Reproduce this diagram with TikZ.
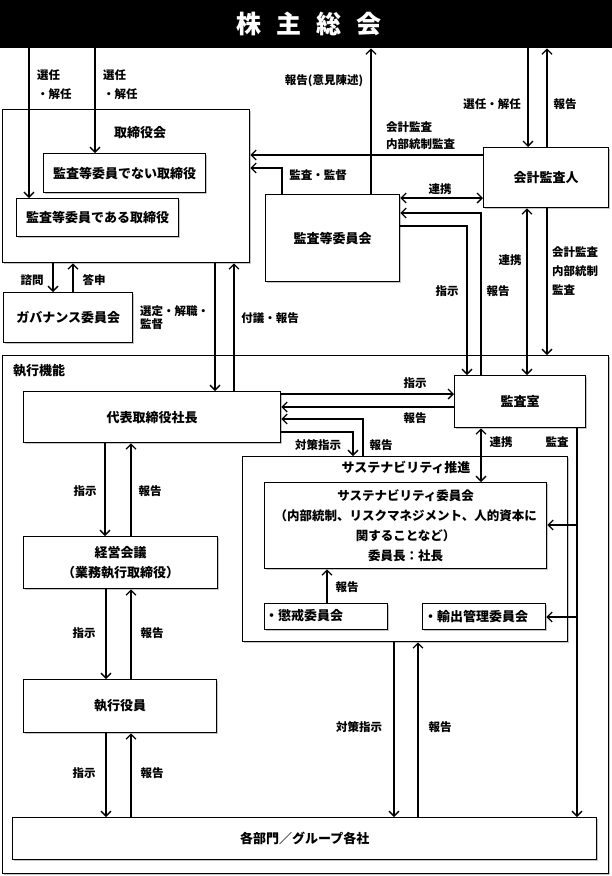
\documentclass[tikz,border=0pt]{standalone}
\usepackage{fontspec}
\setmainfont{Noto Sans CJK JP}
\usetikzlibrary{arrows.meta,shadows}
\begin{document}
\begin{tikzpicture}[x=1pt,y=-1pt,
  font=\bfseries\fontsize{13}{20}\selectfont,
  box/.style={draw,line width=1.3pt,fill=white,anchor=north west,inner sep=0pt,
    drop shadow={shadow xshift=1.3pt,shadow yshift=-1.3pt,fill=black!50,opacity=0.45}},
  lbl/.style={font=\bfseries\fontsize{11.5}{14}\selectfont,inner sep=0pt},
  lblA/.style={font=\bfseries\fontsize{11.5}{19}\selectfont,inner sep=0pt,align=left},
  lblB/.style={font=\bfseries\fontsize{11.5}{17}\selectfont,inner sep=0pt,align=left},
  lblC/.style={font=\bfseries\fontsize{11.5}{12.8}\selectfont,inner sep=0pt,align=left},
  ln/.style={line width=1.3pt},
  arr/.style={ln,-{Straight Barb[length=5pt,width=10pt]}},
  darr/.style={ln,{Straight Barb[length=5pt,width=10pt]}-{Straight Barb[length=5pt,width=10pt]}},
]
\useasboundingbox[fill=white] (0,0) rectangle (612,876);

% top band
\node[fill=black,minimum width=612pt,minimum height=48pt,anchor=north west,inner sep=0pt,
  text=white,font=\bfseries\fontsize{25}{28}\selectfont] (sh) at (0,0)
  {\hspace{6pt}株\hspace{15pt}主\hspace{15pt}総\hspace{15pt}会};

% board
\node[box,minimum width=247pt,minimum height=153pt] (board) at (2,109) {};
\node[inner sep=0pt] (boardlbl) at (140,133) {取締役会};
\node[box,minimum width=162pt,minimum height=39pt] (d1) at (43,153) {監査等委員でない取締役};
\node[box,minimum width=162pt,minimum height=38pt] (d2) at (16,198) {監査等委員である取締役};
\node[box,minimum width=129pt,minimum height=50pt] (gov) at (3,292) {ガバナンス委員会};
\node[box,minimum width=134pt,minimum height=87pt] (ac) at (265,194) {監査等委員会};
\node[box,minimum width=125pt,minimum height=60pt] (auditor) at (483,147) {会計監査人};

% execution
\node[box,minimum width=606pt,minimum height=518pt] (exec) at (2,355) {};
\node[inner sep=0pt,anchor=west] (execlbl) at (13,371) {執行機能};
\node[box,minimum width=257pt,minimum height=51pt] (pres) at (23,391) {代表取締役社長};
\node[box,minimum width=131pt,minimum height=52pt] (audit) at (454,375) {監査室};
\node[box,minimum width=194pt,minimum height=52pt,align=center] (keiei) at (23,536) {経営会議\\（業務執行取締役）};
\node[box,minimum width=325pt,minimum height=185pt] (sus) at (242,456) {};
\node[inner sep=0pt] (suslbl) at (406,467) {サステナビリティ推進};
\node[box,minimum width=282pt,minimum height=86pt,align=center,
  font=\bfseries\fontsize{12.5}{20}\selectfont] (suscom) at (264,482)
  {サステナビリティ委員会\\（内部統制、リスクマネジメント、人的資本に\\関することなど）\\委員長：社長};
\node[box,minimum width=123pt,minimum height=26pt] (chokai) at (264,603) {};
\node[inner sep=0pt,anchor=west] (chokailbl) at (265,616) {・懲戒委員会};
\node[box,minimum width=123pt,minimum height=26pt] (yushutsu) at (422,603) {};
\node[inner sep=0pt,anchor=west] (yushutsulbl) at (424,616) {・輸出管理委員会};
\node[box,minimum width=193pt,minimum height=53pt] (yakuin) at (23,679) {執行役員};
\node[box,minimum width=584pt,minimum height=42pt] (dept) at (12,817) {各部門／グループ各社};

% connectors
\draw[arr] (29,0 |- sh.south) -- (29,0 |- d2.north);
\draw[arr] (95,0 |- sh.south) -- (95,0 |- d1.north);
\draw[arr] (371,0 |- ac.north) -- (371,0 |- sh.south);
\draw[arr] (528,0 |- sh.south) -- (528,0 |- auditor.north);
\draw[arr] (547,0 |- auditor.north) -- (547,0 |- sh.south);
\draw[arr] (auditor.west |- 0,155) -- (board.east |- 0,155);
\draw[arr] (282,0 |- ac.north) |- (board.east |- 0,168);
\draw[darr] (ac.east |- 0,198) -- (auditor.west |- 0,198);
\draw[arr] (ac.east |- 0,226) -| (467,0 |- audit.north);
\draw[arr] (481,0 |- audit.north) |- (ac.east |- 0,213);
\draw[darr] (527,0 |- auditor.south) -- (527,0 |- audit.north);
\draw[arr] (547,0 |- auditor.south) -- (547,0 |- exec.north);
\draw[arr] (53,0 |- board.south) -- (53,0 |- gov.north);
\draw[arr] (73,0 |- gov.north) -- (73,0 |- board.south);
\draw[arr] (215,0 |- board.south) -- (215,0 |- pres.north);
\draw[arr] (234,0 |- pres.north) -- (234,0 |- board.south);
\draw[arr] (pres.east |- 0,394) -- (audit.west |- 0,394);
\draw[arr] (audit.west |- 0,407) -- (pres.east |- 0,407);
\draw[arr] (363,0 |- sus.north) |- (pres.east |- 0,419);
\draw[arr] (pres.east |- 0,432) -| (353,0 |- sus.north);
\draw[darr] (481,0 |- audit.south) -- (481,0 |- suscom.north);
\coordinate (b1) at (577,525);
\coordinate (b2) at (577,617);
\draw[arr] (577,0 |- audit.south) -- (577,0 |- dept.north);
\draw[arr] (b1) -- (suscom.east |- b1);
\draw[arr] (b2) -- (yushutsu.east |- b2);
\draw[arr] (327,0 |- chokai.north) -- (327,0 |- suscom.south);
\draw[arr] (105,0 |- pres.south) -- (105,0 |- keiei.north);
\draw[arr] (131,0 |- keiei.north) -- (131,0 |- pres.south);
\draw[arr] (106,0 |- keiei.south) -- (106,0 |- yakuin.north);
\draw[arr] (131,0 |- yakuin.north) -- (131,0 |- keiei.south);
\draw[arr] (106,0 |- yakuin.south) -- (106,0 |- dept.north);
\draw[arr] (131,0 |- dept.north) -- (131,0 |- yakuin.south);
\draw[arr] (394,0 |- sus.south) -- (394,0 |- dept.north);
\draw[arr] (418,0 |- dept.north) -- (418,0 |- sus.south);

% labels
\node[lblA,anchor=west] (l1) at (37,84.5) {選任\\・解任};
\node[lblA,anchor=west] (l2) at (103,84.5) {選任\\・解任};
\node[lbl] (l3) at (324,81) {報告(意見陳述)};
\node[lblB,anchor=west] (l4) at (386,135.5) {会計監査\\内部統制監査};
\node[lbl] (l5) at (492,104) {選任・解任};
\node[lbl] (l6) at (565,104) {報告};
\node[lbl] (l7) at (318,175) {監査・監督};
\node[lbl] (l8) at (440,189) {連携};
\node[lbl] (l9) at (447,291) {指示};
\node[lbl] (l10) at (498,291) {報告};
\node[lbl] (l11) at (510,260) {連携};
\node[lblA,anchor=west] (l12) at (552,271) {会計監査\\内部統制\\監査};
\node[lbl] (l13) at (32,280) {諮問};
\node[lbl] (l14) at (94,280) {答申};
\node[lblC,anchor=west] (l15) at (140,318) {選定・解職・\\監督};
\node[lbl] (l16) at (270,318) {付議・報告};
\node[lbl] (l17) at (415,383) {指示};
\node[lbl] (l18) at (415,418) {報告};
\node[lbl] (l19) at (318,445) {対策指示};
\node[lbl] (l20) at (381,445) {報告};
\node[lbl] (l21) at (501,442) {連携};
\node[lbl] (l22) at (557,442) {監査};
\node[lbl] (l23) at (347,587) {報告};
\node[lbl] (l24) at (85,491) {指示};
\node[lbl] (l25) at (150,491) {報告};
\node[lbl] (l26) at (84,633) {指示};
\node[lbl] (l27) at (152,633) {報告};
\node[lbl] (l28) at (84,773) {指示};
\node[lbl] (l29) at (152,773) {報告};
\node[lbl] (l30) at (359,727) {対策指示};
\node[lbl] (l31) at (440,727) {報告};
\end{tikzpicture}
\end{document}
